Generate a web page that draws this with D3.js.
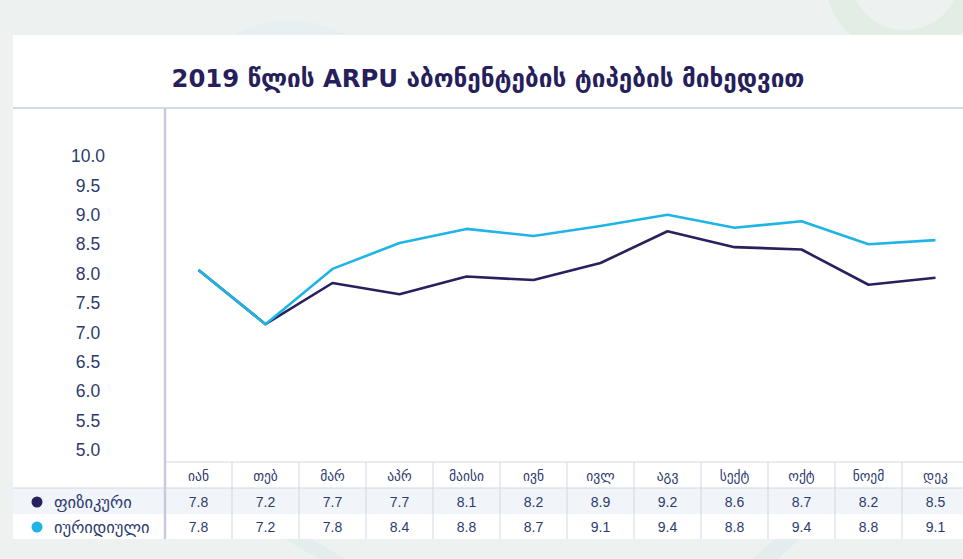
<!DOCTYPE html>
<html>
<head>
<meta charset="utf-8">
<script src="https://cdn.jsdelivr.net/npm/d3@7"></script>
<style>
  body { margin: 0; background: #edf2f1; }
  svg { display: block; }
</style>
</head>
<body>
<div id="chart"></div>
<script>
// months shown in the table header
const months = ['იან', 'თებ', 'მარ', 'აპრ', 'მაისი', 'ივნ', 'ივლ', 'აგვ', 'სექტ', 'ოქტ', 'ნოემ', 'დეკ'];
const seriesNames = ['ფიზიკური', 'იურიდიული'];
// plotted line values
const physical = [8.06, 7.14, 7.84, 7.65, 7.95, 7.89, 8.18, 8.72, 8.45, 8.41, 7.81, 7.93];
const legal = [8.06, 7.14, 8.08, 8.52, 8.76, 8.64, 8.81, 9.00, 8.78, 8.89, 8.50, 8.57];
// values printed in the data table
const physicalTable = ['7.8', '7.2', '7.7', '7.7', '8.1', '8.2', '8.9', '9.2', '8.6', '8.7', '8.2', '8.5'];
const legalTable = ['7.8', '7.2', '7.8', '8.4', '8.8', '8.7', '9.1', '9.4', '8.8', '9.4', '8.8', '9.1'];
const yTicks = [5, 5.5, 6, 6.5, 7, 7.5, 8, 8.5, 9, 9.5, 10];

const width = 963, height = 559;
const colors = ['#27215e', '#1fb4e6'];
const textColor = '#2d3a6e';
const gridColor = '#d3d6e6';
const numFont = '"Liberation Sans", "DejaVu Sans", sans-serif';

const svg = d3.select('#chart')
    .append('svg')
    .attr('width', width)
    .attr('height', height);

// background decorations
svg.append('rect').attr('width', width).attr('height', height).attr('fill', '#edf2f1');
svg.append('circle')
    .attr('cx', 905).attr('cy', -25).attr('r', 68)
    .attr('fill', 'none').attr('stroke', '#e1ede5').attr('stroke-width', 26);
svg.append('circle')
    .attr('cx', 290).attr('cy', 130).attr('r', 110)
    .attr('fill', '#e8eff0');
svg.append('path')
    .attr('d', 'M285,539 L312,539 L345,559 L318,559 Z')
    .attr('fill', '#e4eded');
svg.append('path')
    .attr('d', 'M752,559 L775,539 L800,539 L778,559 Z')
    .attr('fill', '#e4eded');

// white card
const cardLeft = 13, cardTop = 35, cardBottom = 539;
svg.append('rect')
    .attr('x', cardLeft).attr('y', cardTop)
    .attr('width', width - cardLeft).attr('height', cardBottom - cardTop)
    .attr('fill', '#ffffff');

// title
const title = svg.append('text')
    .attr('x', 488).attr('y', 87)
    .attr('text-anchor', 'middle')
    .style('font-family', '"Liberation Sans Narrow", "DejaVu Sans Condensed", "DejaVu Sans", sans-serif')
    .style('font-weight', 'bold')
    .style('font-size', '25px')
    .attr('fill', '#271f5c')
    .text('2019 წლის ARPU აბონენტების ტიპების მიხედვით');
const tw = title.node().getComputedTextLength();
if (Math.abs(tw - 633) > 8) title.attr('textLength', 633).attr('lengthAdjust', 'spacingAndGlyphs');

// scales
const x = d3.scaleBand().domain(months).range([165, 969]);
const y = d3.scaleLinear().domain([5, 10]).range([450, 156]);
const cx = (m) => x(m) + x.bandwidth() / 2;

// y labels
svg.append('g')
    .selectAll('text')
    .data(yTicks)
    .join('text')
    .attr('x', 88)
    .attr('y', (d) => y(d))
    .attr('dy', '0.35em')
    .attr('text-anchor', 'middle')
    .style('font-family', numFont)
    .style('font-size', '17.5px')
    .attr('fill', textColor)
    .text((d) => d.toFixed(1));

// table rows
const headTop = 462, row1Top = 488, row2Top = 514;
svg.append('rect')
    .attr('x', cardLeft).attr('y', row1Top)
    .attr('width', width - cardLeft).attr('height', row2Top - row1Top)
    .attr('fill', '#f1f4f8');

svg.append('line')
    .attr('x1', cardLeft).attr('x2', width)
    .attr('y1', 108).attr('y2', 108)
    .attr('stroke', '#d5d8e8').attr('stroke-width', 2);
svg.append('line')
    .attr('x1', 165).attr('x2', width)
    .attr('y1', headTop).attr('y2', headTop)
    .attr('stroke', gridColor).attr('stroke-width', 1);
svg.append('line')
    .attr('x1', cardLeft).attr('x2', width)
    .attr('y1', row1Top).attr('y2', row1Top)
    .attr('stroke', gridColor).attr('stroke-width', 1);

svg.append('g')
    .selectAll('line')
    .data(months.slice(1))
    .join('line')
    .attr('x1', (d) => x(d)).attr('x2', (d) => x(d))
    .attr('y1', headTop).attr('y2', cardBottom)
    .attr('stroke', gridColor).attr('stroke-width', 1);

// vertical axis line
svg.append('line')
    .attr('x1', 165).attr('x2', 165)
    .attr('y1', 108).attr('y2', cardBottom)
    .attr('stroke', '#c6cadd').attr('stroke-width', 2.5);

// month header
svg.append('g')
    .selectAll('text')
    .data(months)
    .join('text')
    .attr('x', cx)
    .attr('y', 476)
    .attr('dy', '0.35em')
    .attr('text-anchor', 'middle')
    .style('font-family', '"DejaVu Sans", sans-serif')
    .style('font-size', '13.5px')
    .attr('fill', textColor)
    .text((d) => d);

// table values
[physicalTable, legalTable].forEach((vals, r) => {
    svg.append('g')
        .selectAll('text')
        .data(vals)
        .join('text')
        .attr('x', (d, i) => cx(months[i]))
        .attr('y', r === 0 ? 502 : 527)
        .attr('dy', '0.35em')
        .attr('text-anchor', 'middle')
        .style('font-family', numFont)
        .style('font-size', '14px')
        .attr('fill', textColor)
        .text((d) => d);
});

// legend inside table
seriesNames.forEach((name, r) => {
    const ty = r === 0 ? 502 : 527;
    svg.append('circle')
        .attr('cx', 37).attr('cy', ty).attr('r', 5.5)
        .attr('fill', colors[r]);
    svg.append('text')
        .attr('x', 54).attr('y', ty)
        .attr('dy', '0.35em')
        .style('font-family', '"DejaVu Sans", sans-serif')
        .style('font-size', '16.5px')
        .attr('fill', textColor)
        .text(name);
});

// lines
const line = d3.line()
    .x((d, i) => cx(months[i]))
    .y((d) => y(d));

[physical, legal].forEach((vals, s) => {
    svg.append('path')
        .datum(vals)
        .attr('d', line)
        .attr('fill', 'none')
        .attr('stroke', colors[s])
        .attr('stroke-width', 2.6)
        .attr('stroke-linejoin', 'round');
});
</script>
</body>
</html>
